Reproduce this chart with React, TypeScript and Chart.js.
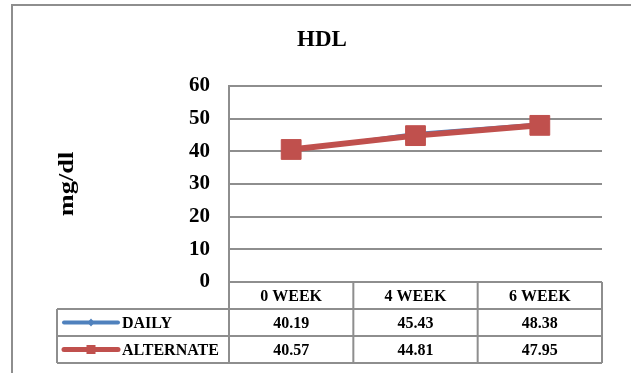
import React, { useEffect, useRef } from "react";
import { Chart, registerables } from "chart.js";

Chart.register(...registerables);

const categories = ["0 WEEK", "4 WEEK", "6 WEEK"];
const seriesNames = ["DAILY", "ALTERNATE"];
const dailyValues = [40.19, 45.43, 48.38];
const alternateValues = [40.57, 44.81, 47.95];
const yTicks = { min: 0, max: 60, step: 10 };
const chartTitle = "HDL";
const yAxisTitle = "mg/dl";

const BLUE = "#4F81BD";
const RED = "#C0504D";
const GRID = "#8e8e8e";
const FONT = "'Liberation Serif', 'Times New Roman', serif";

const fmt = (v: number) => v.toFixed(2);

const tablePlugin = {
  id: "tablePlugin",
  afterDraw(chart: any) {
    const ctx = chart.ctx as CanvasRenderingContext2D;
    const area = chart.chartArea;
    const xs = chart.scales.x;
    const n = categories.length;
    const step = n > 1 ? xs.getPixelForValue(1) - xs.getPixelForValue(0) : area.right - area.left;
    const bounds: number[] = [];
    for (let i = 0; i < n; i++) bounds.push(xs.getPixelForValue(i) - step / 2);
    bounds.push(xs.getPixelForValue(n - 1) + step / 2);

    const rowH = 27;
    const top = area.bottom;
    const r1 = top + rowH;
    const r2 = r1 + rowH;
    const r3 = r2 + rowH;
    const legLeft = 57;

    ctx.save();
    // title
    ctx.fillStyle = "#000";
    ctx.font = `bold 23px ${FONT}`;
    ctx.textAlign = "center";
    ctx.textBaseline = "middle";
    ctx.fillText(chartTitle, 322, 40);

    // y axis title (slightly stretched along its length)
    ctx.save();
    ctx.translate(67, 184);
    ctx.rotate(-Math.PI / 2);
    ctx.scale(1.2, 1);
    ctx.font = `bold 22px ${FONT}`;
    ctx.fillText(yAxisTitle, 0, 0);
    ctx.restore();

    // table lines
    ctx.strokeStyle = GRID;
    ctx.lineWidth = 2;
    ctx.beginPath();
    ctx.moveTo(bounds[0], top);
    ctx.lineTo(bounds[n], top);
    ctx.moveTo(legLeft, r1);
    ctx.lineTo(bounds[n], r1);
    ctx.moveTo(legLeft, r2);
    ctx.lineTo(bounds[n], r2);
    ctx.moveTo(legLeft, r3);
    ctx.lineTo(bounds[n], r3);
    for (let i = 0; i <= n; i++) {
      ctx.moveTo(bounds[i], top);
      ctx.lineTo(bounds[i], r3);
    }
    ctx.moveTo(legLeft, r1);
    ctx.lineTo(legLeft, r3);
    ctx.stroke();

    // header text
    ctx.fillStyle = "#000";
    ctx.font = `bold 16px ${FONT}`;
    ctx.textAlign = "center";
    for (let i = 0; i < n; i++) {
      ctx.fillText(categories[i], (bounds[i] + bounds[i + 1]) / 2, top + rowH / 2 + 1);
    }
    const rows = [dailyValues, alternateValues];
    rows.forEach((vals, ri) => {
      const cy = r1 + rowH * ri + rowH / 2 + 1;
      for (let i = 0; i < n; i++) {
        ctx.fillText(fmt(vals[i]), (bounds[i] + bounds[i + 1]) / 2, cy);
      }
    });

    // legend keys
    const keyL = 64;
    const keyR = 118;
    const keyC = (keyL + keyR) / 2;
    let cy = r1 + rowH / 2;
    ctx.strokeStyle = BLUE;
    ctx.lineWidth = 4;
    ctx.lineCap = "round";
    ctx.beginPath();
    ctx.moveTo(keyL, cy);
    ctx.lineTo(keyR, cy);
    ctx.stroke();
    ctx.fillStyle = BLUE;
    ctx.beginPath();
    ctx.moveTo(keyC, cy - 4);
    ctx.lineTo(keyC + 3.5, cy);
    ctx.lineTo(keyC, cy + 4);
    ctx.lineTo(keyC - 3.5, cy);
    ctx.closePath();
    ctx.fill();
    cy = r2 + rowH / 2;
    ctx.strokeStyle = RED;
    ctx.lineWidth = 5;
    ctx.beginPath();
    ctx.moveTo(keyL, cy);
    ctx.lineTo(keyR, cy);
    ctx.stroke();
    ctx.fillStyle = RED;
    ctx.fillRect(keyC - 4.5, cy - 4.5, 9, 9);

    ctx.fillStyle = "#000";
    ctx.font = `bold 16px ${FONT}`;
    ctx.textAlign = "left";
    seriesNames.forEach((name, i) => {
      ctx.fillText(name, 122, r1 + rowH * i + rowH / 2 + 1);
    });
    ctx.restore();
  },
};

export default function App() {
  const ref = useRef<HTMLCanvasElement | null>(null);
  useEffect(() => {
    if (!ref.current) return;
    const chart = new Chart(ref.current, {
      type: "line",
      data: {
        labels: categories,
        datasets: [
          {
            label: seriesNames[0],
            data: dailyValues,
            borderColor: BLUE,
            backgroundColor: BLUE,
            borderWidth: 3,
            pointStyle: "rectRot",
            pointRadius: 5,
            pointBorderWidth: 1,
            order: 1,
          },
          {
            label: seriesNames[1],
            data: alternateValues,
            borderColor: RED,
            backgroundColor: RED,
            borderWidth: 6,
            pointStyle: "rect",
            pointRadius: 14,
            pointBorderWidth: 1,
            order: 0,
          },
        ],
      },
      options: {
        animation: false,
        responsive: false,
        maintainAspectRatio: false,
        layout: { padding: { top: 86, bottom: 91, left: 0, right: 29 } },
        plugins: {
          legend: { display: false },
          title: { display: false },
          tooltip: { enabled: false },
        },
        scales: {
          x: {
            type: "category",
            display: false,
            offset: true,
          },
          y: {
            min: yTicks.min,
            max: yTicks.max,
            ticks: {
              stepSize: yTicks.step,
              color: "#000",
              font: { family: FONT, size: 21, weight: "bold" },
              padding: 19,
            },
            grid: { color: GRID, lineWidth: 2, drawTicks: false },
            border: { display: true, color: GRID, width: 2 },
            afterFit: (s: any) => {
              s.width = 229;
            },
          },
        },
      },
      plugins: [tablePlugin],
    });
    return () => chart.destroy();
  }, []);

  return (
    <div style={{ position: "absolute", left: 0, top: 0, width: 631, height: 373, overflow: "hidden", background: "#fff" }}>
      <div
        style={{
          position: "absolute",
          left: 11,
          top: 4,
          width: 700,
          height: 500,
          border: "2px solid #8e8e8e",
          boxSizing: "border-box",
        }}
      />
      <canvas ref={ref} width={631} height={373} style={{ position: "absolute", left: 0, top: 0, width: 631, height: 373 }} />
    </div>
  );
}
